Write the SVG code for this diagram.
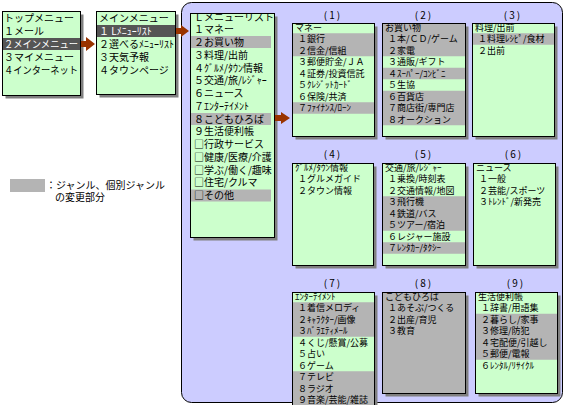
<svg xmlns="http://www.w3.org/2000/svg" width="565" height="405" viewBox="0 0 565 405">
<style>
.bg{fill:#fff}
.panel{fill:#CCCCFF;stroke:#000;stroke-width:1}
.box{fill:#CCFFCC;stroke:#000;stroke-width:1}
.gbox{fill:#B4B4B4;stroke:#000;stroke-width:1}
.sh{fill:#808080}
.hl{fill:#B4B4B4}
.dk{fill:#555555}
.ar{fill:#993300}
text{font-family:"Noto Sans CJK JP","Noto Sans",sans-serif;font-size:10px;fill:#000}
.s{font-size:9px}
.w{fill:#fff}
.lb{font-size:10px;text-anchor:middle;letter-spacing:2px}
</style>
<rect class="bg" x="0" y="0" width="565" height="405"/>
<rect class="panel" x="181.5" y="2.5" width="381" height="400" rx="10"/>

<g id="top-menu">
<rect class="sh" x="5.5" y="14.5" width="78" height="84"/>
<rect class="box" x="2.5" y="11.5" width="78" height="84"/>
<rect class="dk" x="3" y="38" width="77" height="12"/>
<text x="4" y="21.6">トップメニュー</text>
<text x="4" y="34.6">１メール</text>
<text class="w" x="4" y="47.6" textLength="74" lengthAdjust="spacingAndGlyphs">２メインメニュー</text>
<text x="4" y="60.6">３マイメニュー</text>
<text x="4" y="73.6" textLength="74" lengthAdjust="spacingAndGlyphs">４インターネット</text>
</g>

<g id="main-menu">
<rect class="sh" x="99.5" y="14.5" width="79" height="83"/>
<rect class="box" x="96.5" y="11.5" width="79" height="83"/>
<rect class="dk" x="97" y="25" width="78" height="12"/>
<text x="99" y="21.6">メインメニュー</text>
<text class="w" x="99" y="34.6">１ Lﾒﾆｭｰﾘｽﾄ</text>
<text x="99" y="47.6">２選べるﾒﾆｭｰﾘｽﾄ</text>
<text x="99" y="60.6">３天気予報</text>
<text x="99" y="73.6">４タウンページ</text>
</g>

<g id="l-menu-list">
<rect class="sh" x="193.5" y="16.5" width="84" height="224"/>
<rect class="box" x="190.5" y="13.5" width="84" height="224"/>
<rect class="hl" x="191" y="36" width="80" height="12"/>
<rect class="hl" x="191" y="113" width="80" height="12"/>
<rect class="hl" x="191" y="189.5" width="80" height="12"/>
<text x="194" y="20.5">Ｌメニューリスト</text>
<text x="194" y="33.25">１マネー</text>
<text x="194" y="46">２お買い物</text>
<text x="194" y="58.75">３料理/出前</text>
<text x="194" y="71.5">４ｸﾞﾙﾒ/ﾀｳﾝ情報</text>
<text x="194" y="84.25">５交通/旅/ﾚｼﾞｬｰ</text>
<text x="194" y="97">６ニュース</text>
<text x="194" y="109.75">７ｴﾝﾀｰﾃｲﾒﾝﾄ</text>
<text x="194" y="122.5">８こどもひろば</text>
<text x="194" y="135.25">９生活便利帳</text>
<text x="194" y="148">□行政サービス</text>
<text x="194" y="160.75">□健康/医療/介護</text>
<text x="194" y="173.5">□学ぶ/働く/趣味</text>
<text x="194" y="186.25">□住宅/クルマ</text>
<text x="194" y="199">□その他</text>
</g>

<g id="g1-money">
<text class="lb" x="333" y="19">(1)</text>
<rect class="sh" x="295.5" y="26.5" width="82" height="113"/>
<rect class="box" x="292.5" y="23.5" width="82" height="113"/>
<rect class="hl" x="293" y="33.25" width="81" height="23"/>
<rect class="hl" x="293" y="102.25" width="81" height="11.5"/>
<text class="s" x="295" y="30.8">マネー</text>
<text class="s" x="298" y="42.3">１銀行</text>
<text class="s" x="298" y="53.8">２信金/信組</text>
<text class="s" x="298" y="65.3">３郵便貯金/ＪＡ</text>
<text class="s" x="298" y="76.8">４証券/投資信託</text>
<text class="s" x="298" y="88.3">５ｸﾚｼﾞｯﾄｶｰﾄﾞ</text>
<text class="s" x="298" y="99.8">６保険/共済</text>
<text class="s" x="298" y="111.3">７ﾌｧｲﾅﾝｽ/ﾛｰﾝ</text>
</g>

<g id="g2-shopping">
<text class="lb" x="424" y="19">(2)</text>
<rect class="sh" x="385.5" y="26.5" width="83" height="113"/>
<rect class="box" x="382.5" y="23.5" width="83" height="113"/>
<rect class="hl" x="383" y="24" width="82" height="32.25"/>
<rect class="hl" x="383" y="67.75" width="82" height="11.5"/>
<rect class="hl" x="383" y="90.75" width="82" height="34.5"/>
<text class="s" x="385" y="30.8">お買い物</text>
<text class="s" x="388" y="42.3">１本/ＣＤ/ゲーム</text>
<text class="s" x="388" y="53.8">２家電</text>
<text class="s" x="388" y="65.3">３通販/ギフト</text>
<text class="s" x="388" y="76.8">４ｽｰﾊﾟｰ/ｺﾝﾋﾞﾆ</text>
<text class="s" x="388" y="88.3">５生協</text>
<text class="s" x="388" y="99.8">６百貨店</text>
<text class="s" x="388" y="111.3">７商店街/専門店</text>
<text class="s" x="388" y="122.8">８オークション</text>
</g>

<g id="g3-cooking">
<text class="lb" x="513" y="19">(3)</text>
<rect class="sh" x="475.5" y="26.5" width="82" height="113"/>
<rect class="box" x="472.5" y="23.5" width="82" height="113"/>
<rect class="hl" x="473" y="33.25" width="81" height="11.5"/>
<text class="s" x="475" y="30.8">料理/出前</text>
<text class="s" x="478" y="42.3">１料理ﾚｼﾋﾟ/食材</text>
<text class="s" x="478" y="53.8">２出前</text>
</g>

<g id="g4-gourmet">
<text class="lb" x="333" y="158">(4)</text>
<rect class="sh" x="295.5" y="166.5" width="81" height="102"/>
<rect class="box" x="292.5" y="163.5" width="81" height="102"/>
<text class="s" x="295" y="170.8">ｸﾞﾙﾒ/ﾀｳﾝ情報</text>
<text class="s" x="298" y="182.3">１グルメガイド</text>
<text class="s" x="298" y="193.8">２タウン情報</text>
</g>

<g id="g5-travel">
<text class="lb" x="424" y="158">(5)</text>
<rect class="sh" x="385.5" y="166.5" width="83" height="102"/>
<rect class="box" x="382.5" y="163.5" width="83" height="102"/>
<rect class="hl" x="383" y="196.25" width="82" height="34.5"/>
<rect class="hl" x="383" y="242.25" width="82" height="11.5"/>
<text class="s" x="385" y="170.8">交通/旅/ﾚｼﾞｬｰ</text>
<text class="s" x="388" y="182.3">１乗換/時刻表</text>
<text class="s" x="388" y="193.8">２交通情報/地図</text>
<text class="s" x="388" y="205.3">３飛行機</text>
<text class="s" x="388" y="216.8">４鉄道/バス</text>
<text class="s" x="388" y="228.3">５ツアー/宿泊</text>
<text class="s" x="388" y="239.8">６レジャー施設</text>
<text class="s" x="388" y="251.3">７ﾚﾝﾀｶｰ/ﾀｸｼｰ</text>
</g>

<g id="g6-news">
<text class="lb" x="514" y="158">(6)</text>
<rect class="sh" x="476.5" y="166.5" width="82" height="102"/>
<rect class="box" x="473.5" y="163.5" width="82" height="102"/>
<text class="s" x="476" y="170.8">ニュース</text>
<text class="s" x="479" y="182.3">１一般</text>
<text class="s" x="479" y="193.8">２芸能/スポーツ</text>
<text class="s" x="479" y="205.3">３ﾄﾚﾝﾄﾞ/新発売</text>
</g>

<g id="g7-entertainment">
<text class="lb" x="333" y="287">(7)</text>
<rect class="sh" x="295.5" y="295.5" width="82" height="115"/>
<rect class="box" x="292.5" y="292.5" width="82" height="115"/>
<rect class="hl" x="293" y="302.25" width="81" height="34.5"/>
<rect class="hl" x="293" y="371.25" width="81" height="36"/>
<text class="s" x="295" y="299.8">ｴﾝﾀｰﾃｲﾒﾝﾄ</text>
<text class="s" x="298" y="311.3">１着信メロディ</text>
<text class="s" x="298" y="322.8">２ｷｬﾗｸﾀｰ/画像</text>
<text class="s" x="298" y="334.3">３ﾊﾞﾗｴﾃｨﾒｰﾙ</text>
<text class="s" x="298" y="345.8">４くじ/懸賞/公募</text>
<text class="s" x="298" y="357.3">５占い</text>
<text class="s" x="298" y="368.8">６ゲーム</text>
<text class="s" x="298" y="380.3">７テレビ</text>
<text class="s" x="298" y="391.8">８ラジオ</text>
<text class="s" x="298" y="403.3">９音楽/芸能/雑誌</text>
</g>

<g id="g8-kids">
<text class="lb" x="424" y="287">(8)</text>
<rect class="sh" x="385.5" y="295.5" width="83" height="101"/>
<rect class="gbox" x="382.5" y="292.5" width="83" height="101"/>
<text class="s" x="385" y="299.8">こどもひろば</text>
<text class="s" x="388" y="311.3">１あそぶ/つくる</text>
<text class="s" x="388" y="322.8">２出産/育児</text>
<text class="s" x="388" y="334.3">３教育</text>
</g>

<g id="g9-living">
<text class="lb" x="516" y="287">(9)</text>
<rect class="sh" x="478.5" y="295.5" width="82" height="101"/>
<rect class="box" x="475.5" y="292.5" width="82" height="101"/>
<rect class="hl" x="476" y="313.75" width="81" height="46"/>
<text class="s" x="478" y="299.8">生活便利帳</text>
<text class="s" x="481" y="311.3">１辞書/用語集</text>
<text class="s" x="481" y="322.8">２暮らし/家事</text>
<text class="s" x="481" y="334.3">３修理/防犯</text>
<text class="s" x="481" y="345.8">４宅配便/引越し</text>
<text class="s" x="481" y="357.3">５郵便/電報</text>
<text class="s" x="481" y="368.8">６ﾚﾝﾀﾙ/ﾘｻｲｸﾙ</text>
</g>

<g id="legend">
<rect class="hl" x="10" y="179" width="35" height="13"/>
<text x="46" y="189">：ジャンル、個別ジャンル</text>
<text x="55" y="201">の変更部分</text>
</g>

<g id="connectors">
<polygon class="ar" points="81,41 86,41 86,37 95,44 86,51 86,47 81,47"/>
<polygon class="ar" points="176,28 181,28 181,25 189,31 181,37 181,34 176,34"/>
<polygon class="ar" points="275,115 281,115 281,112 290,118 281,124 281,121 275,121"/>
</g>
</svg>
